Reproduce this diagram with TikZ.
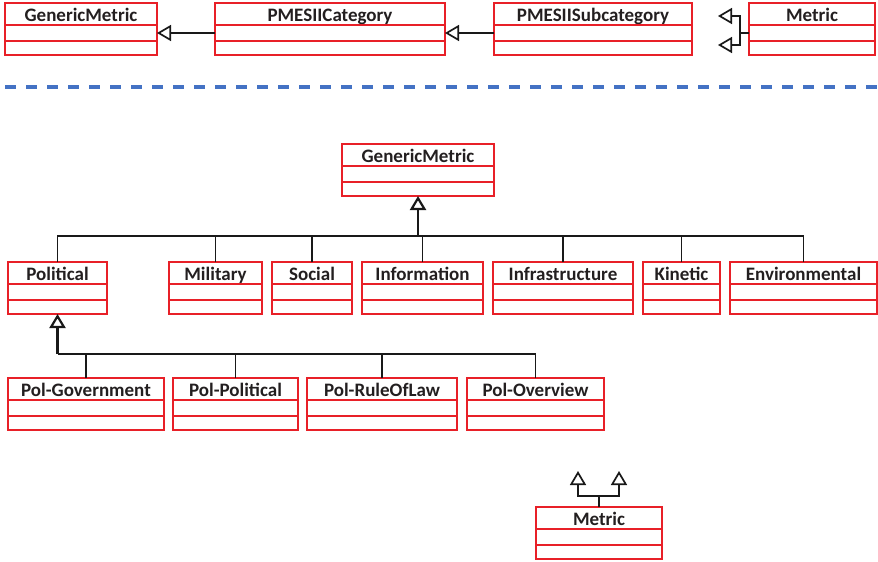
\documentclass[tikz,border=0pt]{standalone}
\usepackage{fontspec}
\setmainfont{Carlito}
\usetikzlibrary{arrows.meta}

\definecolor{boxred}{RGB}{232,32,40}
\definecolor{txtgray}{RGB}{35,31,32}
\definecolor{sepblue}{RGB}{68,114,196}

\tikzset{
    classframe/.style={rectangle, draw=boxred, line width=2pt, inner sep=0pt, outer sep=0pt},
    classline/.style={draw=boxred, line width=2pt},
    classname/.style={font=\fontsize{19}{21}\selectfont\bfseries, text=txtgray, inner sep=0pt},
    link/.style={draw=black!90, line width=1.7pt},
    gen/.style={link, -{Triangle[length=14pt, width=16pt, fill=white]}},
    divider/.style={draw=sepblue, line width=3.5pt, dash pattern=on 11pt off 10pt}
}

% class box: name, left x, right x, top y, title
\newcommand{\classbox}[5]{%
    \node[classframe, anchor=north west, minimum width={(#3-#2)*1pt}, minimum height=52pt] (#1) at (#2,#4) {};
    \node[classname, anchor=base] (#1-name) at ([yshift=-18pt]#1.north) {#5};
    \draw[classline] ([yshift=-22pt]#1.north west) -- ([yshift=-22pt]#1.north east);
    \draw[classline] ([yshift=-37.5pt]#1.north west) -- ([yshift=-37.5pt]#1.north east);
    \coordinate (#1-w) at ([yshift=-30pt]#1.north west);
    \coordinate (#1-e) at ([yshift=-30pt]#1.north east);
}

\begin{document}
\begin{tikzpicture}[x=1pt,y=-1pt]
    \useasboundingbox (0,0) rectangle (878,562);

    % draw the chain of classes on top
    \classbox{gmTop}{5}{157}{3}{GenericMetric}
    \classbox{catTop}{215}{445}{3}{PMESIICategory}
    \classbox{subTop}{494}{692}{3}{PMESIISubcategory}
    \classbox{metTop}{749}{875}{3}{Metric}

    \draw[gen] (catTop-w) -- (gmTop-e);
    \draw[gen] (subTop-w) -- (catTop-e);

    % fork on the left of metric
    \coordinate (metTop-j) at ([xshift=-9pt]metTop-w);
    \coordinate (metTop-up) at (718,16);
    \coordinate (metTop-dn) at (718,45);
    \draw[link] (metTop-w) -- (metTop-j);
    \draw[gen] (metTop-j) |- (metTop-up);
    \draw[gen] (metTop-j) |- (metTop-dn);

    % dashed separator
    \draw[divider] (5,87) -- (878,87);

    % draw generic metric and the categories
    \classbox{gm}{342}{494}{144}{GenericMetric}

    \classbox{pol}{8}{107}{262}{Political}
    \classbox{mil}{169}{262}{262}{Military}
    \classbox{soc}{272}{352}{262}{Social}
    \classbox{inf}{362}{483}{262}{Information}
    \classbox{infra}{493}{633}{262}{Infrastructure}
    \classbox{kin}{643}{720}{262}{Kinetic}
    \classbox{env}{730}{877}{262}{Environmental}

    \coordinate (busy) at (0,236);
    \coordinate (trunk) at (gm.south |- busy);
    \foreach \c in {pol,mil,soc,inf,infra,kin,env}{
        \draw[link] (\c.north) |- (trunk);
    }
    \draw[gen, line width=2.2pt] (trunk) -- (gm.south);

    % draw the political subcategories
    \classbox{polGov}{8}{164}{378}{Pol-Government}
    \classbox{polPol}{173}{298}{378}{Pol-Political}
    \classbox{polLaw}{307}{457}{378}{Pol-RuleOfLaw}
    \classbox{polOvr}{467}{604}{378}{Pol-Overview}

    \coordinate (polbusy) at (0,354);
    \coordinate (poltrunk) at (pol.south |- polbusy);
    \foreach \c in {polGov,polPol,polLaw,polOvr}{
        \draw[link] (\c.north) |- (poltrunk);
    }
    \draw[gen, line width=2.2pt] (poltrunk) -- (pol.south);

    % metric with two parents
    \classbox{met}{536}{662}{507}{Metric}
    \coordinate (met-j) at ([yshift=11pt]met.north);
    \coordinate (met-l) at (578,471);
    \coordinate (met-r) at (619,471);
    \draw[link] (met.north) -- (met-j);
    \draw[gen] (met-j) -| (met-l);
    \draw[gen] (met-j) -| (met-r);
\end{tikzpicture}
\end{document}
